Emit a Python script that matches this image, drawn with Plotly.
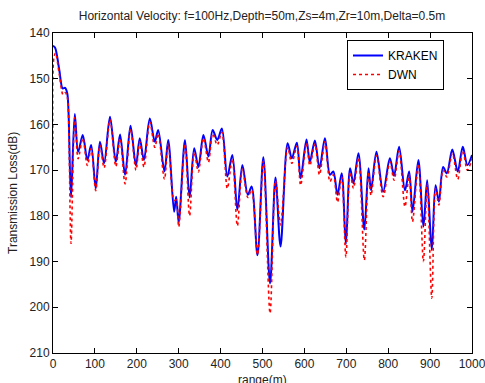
import plotly.graph_objects as go

kraken_range = [0, 5, 15, 23, 29, 34, 37, 43, 52, 60,
                71, 82, 91, 102, 112, 122, 136, 150, 160, 172,
                185, 198, 207, 217, 231, 243, 251, 266, 275, 289,
                294, 300, 315, 326, 337, 347, 359, 371, 381, 392,
                403, 416, 428, 440, 452, 465, 474, 488, 502, 518,
                531, 543, 560, 570, 582, 591, 605, 613, 625, 636,
                649, 661, 669, 679, 689, 699, 709, 717, 729, 743,
                753, 759, 772, 788, 804, 814, 826, 840, 850, 858,
                872, 884, 893, 904, 913, 921, 931, 940, 953, 966,
                978, 989, 1000]
kraken_tl = [142.8, 143.2, 148.1, 152.1, 152.0, 153.2, 157.2, 176, 157.7, 166,
             162.3, 167.8, 164.5, 174, 163.8, 168.5, 158.3, 168.2, 162.2, 171,
             160.3, 169, 163.0, 167.8, 158.7, 163.8, 161.2, 170.3, 163.4, 179.1,
             175.8, 181.5, 163.4, 176, 165.2, 169.3, 162.3, 167, 161.2, 163.4,
             160.9, 171.4, 166.7, 178.7, 168.9, 175.4, 173.6, 188.6, 167.2, 194.8,
             171.6, 186.7, 164.1, 167.4, 164, 171.8, 163.3, 168.2, 163.5, 169.6,
             163, 171, 170.3, 175.4, 170.7, 186.2, 169.6, 172.9, 166.3, 183,
             169.6, 174.4, 166, 174.7, 167.4, 171.2, 164.9, 174.4, 170.3, 179.1,
             167.8, 182.4, 172.2, 187.5, 173.3, 176.9, 169.3, 170.7, 165.5, 170.3,
             164.9, 168.9, 166.7]

dwn_range = [0, 2, 6, 15, 24, 29, 34, 37, 43, 52,
             60, 71, 82, 91, 102, 112, 122, 136, 150, 160,
             172, 185, 198, 207, 217, 231, 243, 251, 266, 275,
             289, 294, 300, 315, 326, 337, 347, 359, 371, 381,
             392, 403, 416, 428, 440, 452, 465, 474, 488, 502,
             518, 531, 543, 560, 570, 582, 591, 605, 613, 625,
             636, 649, 661, 669, 679, 689, 699, 709, 717, 729,
             743, 753, 759, 772, 788, 804, 814, 826, 840, 850,
             858, 872, 884, 893, 904, 913, 921, 931, 940, 953,
             966, 978, 989, 1000]
dwn_tl = [166, 145.5, 144.4, 149, 153.5, 153, 154, 158, 186, 158.5,
          167.5, 163, 169, 165.3, 174.5, 164.5, 169.5, 159, 169.2, 163,
          173, 161, 170, 163.8, 169.3, 159.5, 165, 162, 172, 164.2,
          176.6, 176.5, 182.4, 164.2, 180, 166, 170.4, 163, 168.3, 162,
          164.5, 161.7, 174, 167.5, 182.2, 169.7, 176, 174.3, 188.5, 168,
          201.3, 172.3, 182, 165, 168.5, 164.8, 173.3, 164, 169, 164.3,
          171, 163.8, 172.5, 171, 177, 171.5, 189, 170.4, 174, 167.2,
          189.7, 170.4, 175.5, 166.8, 175.8, 168.2, 172.2, 165.8, 178, 171,
          181.3, 168.6, 190, 173, 198, 174, 177.6, 170, 171.5, 166.3,
          172, 165.7, 170, 167.5]

x_ticks = [0, 100, 200, 300, 400, 500, 600, 700, 800, 900, 1000]
y_ticks = [140, 150, 160, 170, 180, 190, 200, 210]

FONT = "Liberation Sans, Arial, sans-serif"

fig = go.Figure()
fig.add_trace(go.Scatter(x=kraken_range, y=kraken_tl, mode="lines", name="KRAKEN",
                         line=dict(color="#0000ff", width=2, shape="spline", smoothing=0.9)))
fig.add_trace(go.Scatter(x=dwn_range, y=dwn_tl, mode="lines", name="DWN",
                         line=dict(color="#ff0000", width=1.6, dash="dot", shape="spline", smoothing=0.9)))

axis_common = dict(showline=True, linecolor="black", linewidth=1, mirror="allticks",
                   ticks="inside", ticklen=5, tickcolor="black", showgrid=False, zeroline=False,
                   ticklabeloverflow="allow", automargin=False,
                   tickfont=dict(family=FONT, size=12, color="#222"))

fig.update_xaxes(range=[0, 1000], tickvals=x_ticks, **axis_common)
fig.update_yaxes(range=[210, 140], tickvals=y_ticks, **axis_common)

fig.update_layout(
    width=485, height=383, autosize=False,
    margin=dict(l=53, r=13, t=33, b=30),
    paper_bgcolor="white", plot_bgcolor="white",
    font=dict(family=FONT, size=12, color="#222"),
    title=dict(text="Horizontal Velocity: f=100Hz,Depth=50m,Zs=4m,Zr=10m,Delta=0.5m",
               x=(262) / 485, xanchor="center", y=1 - 16 / 383, yanchor="middle",
               yref="container", automargin=False, font=dict(family=FONT, size=12, color="#222")),
    legend=dict(x=(347 - 53) / 419, y=1 - 7 / 320, xanchor="left", yanchor="top",
                bgcolor="white", bordercolor="black", borderwidth=1, itemwidth=30,
                font=dict(family=FONT, size=12, color="black"), tracegroupgap=0),
    showlegend=True,
    annotations=[
        dict(text="range(m)", xref="paper", yref="paper", x=0.5, y=-18 / 320,
             xanchor="center", yanchor="top", showarrow=False,
             font=dict(family=FONT, size=12, color="#222")),
        dict(text="Transmission Loss(dB)", xref="paper", yref="paper", x=-40 / 419, y=0.5,
             xanchor="center", yanchor="middle", textangle=-90, showarrow=False,
             font=dict(family=FONT, size=12, color="#222")),
    ],
)

fig.write_html("out.html", config={"responsive": False},
               post_script="document.documentElement.style.overflow='hidden';document.body.style.overflow='hidden';document.body.style.margin='0';")
